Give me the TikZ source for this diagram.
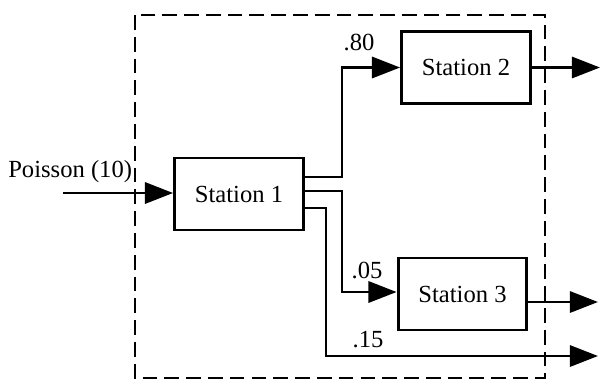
\documentclass[tikz,border=0pt]{standalone}
\usepackage{fontspec}
\setmainfont{Liberation Serif}
\usetikzlibrary{arrows.meta}
\tikzset{
  station/.style={draw, line width=2.1pt, minimum width=3.22cm, minimum height=1.8cm,
                  font=\fontsize{17.5}{20}\selectfont, inner sep=0pt},
  flow/.style={line width=2.1pt, -{Triangle[length=20pt, width=15pt]}},
  prob/.style={font=\fontsize{17.5}{20}\selectfont, inner sep=0pt},
  boundary/.style={line width=2.1pt, dash pattern=on 10.5pt off 5pt},
}
\begin{document}
\begin{tikzpicture}[x=0.025cm, y=-0.025cm]
  \useasboundingbox (0,0) rectangle (602,384);
  % system boundary
  \draw[boundary] (135,15) rectangle (545,378);
  % stations
  \node[station] (st1) at (239,194) {Station 1};
  \node[station] (st2) at (466,67.5) {Station 2};
  \node[station] (st3) at (462.5,294) {Station 3};
  % arrivals
  \coordinate (src) at (63,193);
  \node[prob, anchor=west] (arr) at (8,172) {Poisson (10)};
  \draw[flow] (src) -- (src -| st1.west);
  % routing out of station 1
  \draw[flow] (st1.east |- 0,177) -| (342,67.5) -- (st2.west);
  \draw[flow] (st1.east |- 0,191) -| (342,292) -- (st3.west |- 0,292);
  \coordinate (leave) at (598,356);
  \draw[flow] (st1.east |- 0,208) -| (326,356) -- (leave);
  \node[prob] (p80) at (359,42) {.80};
  \node[prob] (p05) at (367,270) {.05};
  \node[prob] (p15) at (368,340) {.15};
  % departures
  \coordinate (out2) at (600,67.5);
  \coordinate (out3) at (598,302);
  \draw[flow] (st2.east) -- (out2);
  \draw[flow] (st3.east |- out3) -- (out3);
\end{tikzpicture}
\end{document}
